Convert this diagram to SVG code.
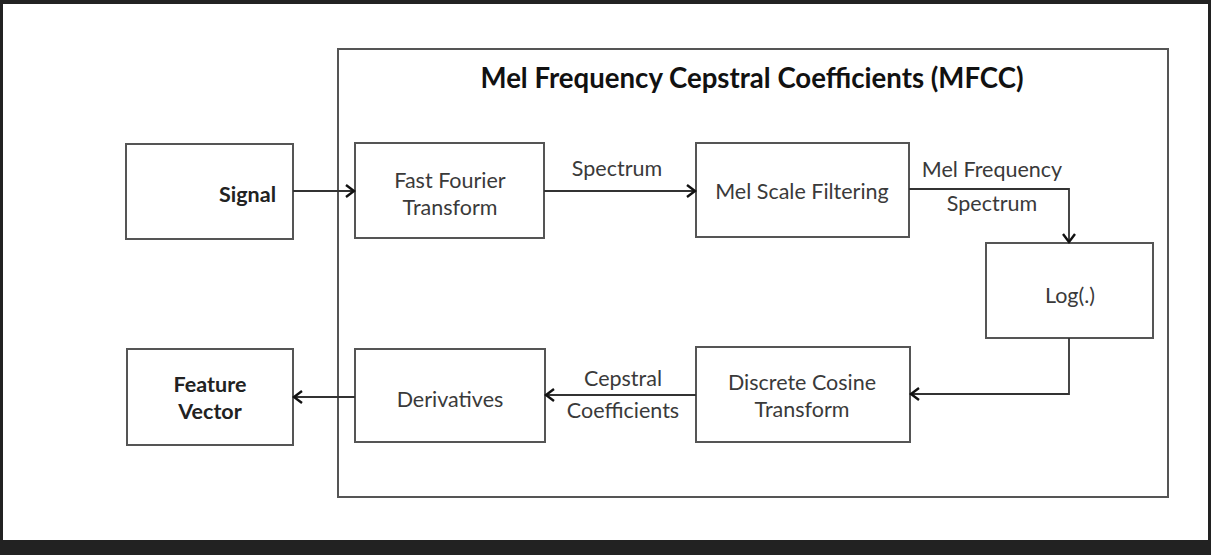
<svg xmlns="http://www.w3.org/2000/svg" width="1211" height="555" viewBox="0 0 1211 555">
  <style>
    .box { fill: #fff; stroke: #555; stroke-width: 2; }
    .conn { fill: none; stroke: #333; stroke-width: 1.8; }
    .t { font-family: Lato, "Open Sans", sans-serif; font-size: 21.5px; fill: #3a3a3a; text-anchor: middle; }
    .b { font-weight: bold; fill: #222; }
    .title { font-family: Lato, "Open Sans", sans-serif; font-size: 27.6px; font-weight: bold; fill: #111; text-anchor: middle; }
  </style>
  <defs>
    <marker id="arr" markerUnits="userSpaceOnUse" markerWidth="14" markerHeight="16" refX="10" refY="7" orient="auto">
      <path d="M2,1 L10,7 L2,13" fill="none" stroke="#111" stroke-width="2.4"/>
    </marker>
  </defs>
  <rect x="0" y="0" width="1211" height="555" fill="#222"/>
  <rect x="3" y="4" width="1205" height="536" fill="#fff"/>

  <g id="mfcc">
    <rect class="box" x="338" y="49" width="830" height="448"/>
    <text class="title" x="752" y="88">Mel Frequency Cepstral Coefficients (MFCC)</text>
  </g>

  <g id="signal">
    <rect class="box" x="126" y="144" width="167" height="95"/>
    <text class="t b" x="276" y="202" style="text-anchor:end">Signal</text>
  </g>
  <g id="fft">
    <rect class="box" x="355" y="143" width="189" height="95"/>
    <text class="t" x="450" y="188">Fast Fourier</text>
    <text class="t" x="450" y="215">Transform</text>
  </g>
  <g id="mel">
    <rect class="box" x="696" y="143" width="213" height="94"/>
    <text class="t" x="802" y="199">Mel Scale Filtering</text>
  </g>
  <g id="log">
    <rect class="box" x="986" y="243" width="167" height="95"/>
    <text class="t" x="1070" y="303">Log(.)</text>
  </g>
  <g id="dct">
    <rect class="box" x="696" y="347" width="214" height="95"/>
    <text class="t" x="802" y="390">Discrete Cosine</text>
    <text class="t" x="802" y="417">Transform</text>
  </g>
  <g id="derivatives">
    <rect class="box" x="355" y="349" width="190" height="93"/>
    <text class="t" x="450" y="407">Derivatives</text>
  </g>
  <g id="feature">
    <rect class="box" x="127" y="349" width="166" height="96"/>
    <text class="t b" x="210" y="392">Feature</text>
    <text class="t b" x="210" y="419">Vector</text>
  </g>

  <g id="connectors">
    <path class="conn" d="M293,191 L354,191" marker-end="url(#arr)"/>
    <path class="conn" d="M544,191 L695,191" marker-end="url(#arr)"/>
    <path class="conn" d="M909,189 L1069,189 L1069,242" marker-end="url(#arr)"/>
    <path class="conn" d="M1069,338 L1069,394 L911,394" marker-end="url(#arr)"/>
    <path class="conn" d="M696,395 L546,395" marker-end="url(#arr)"/>
    <path class="conn" d="M355,397 L294,397" marker-end="url(#arr)"/>
    <text class="t" x="617" y="176">Spectrum</text>
    <text class="t" x="992" y="177">Mel Frequency</text>
    <text class="t" x="992" y="211">Spectrum</text>
    <text class="t" x="623" y="386">Cepstral</text>
    <text class="t" x="623" y="418">Coefficients</text>
  </g>
</svg>
